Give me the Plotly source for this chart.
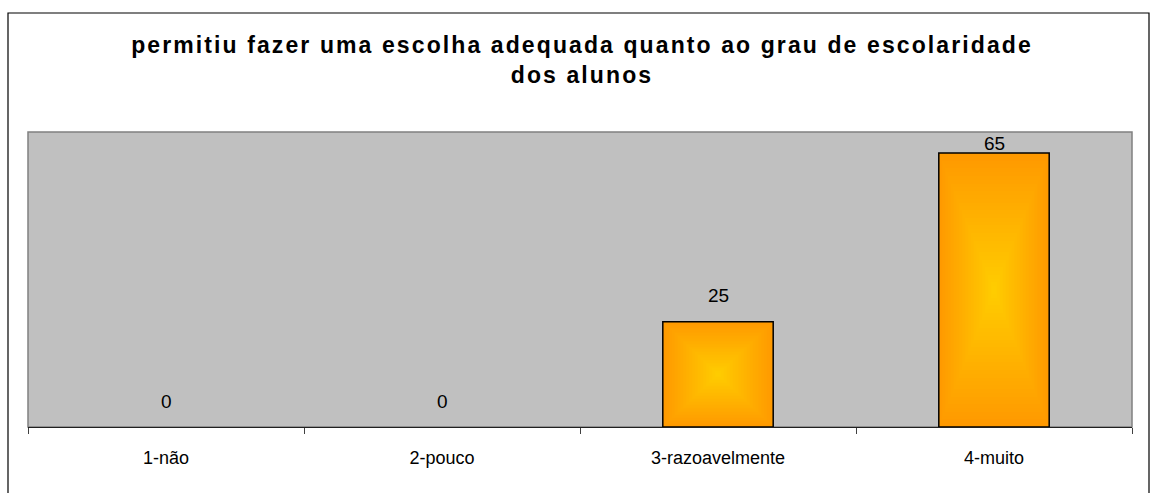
import plotly.graph_objects as go

categories = ["1-não", "2-pouco", "3-razoavelmente", "4-muito"]
values = [0, 0, 25, 65]
title_lines = ["permitiu fazer uma escolha adequada quanto ao grau de escolaridade", "dos alunos"]

Y_MAX = 70
W, H = 1154, 493
ML, MR, MT, MB = 28, 22, 132, 66
PW, PH = W - ML - MR, H - MT - MB
PX_PER_UNIT = PH / Y_MAX

def px_to_paper_x(px):
    return (px - ML) / PW

def px_to_paper_y(py):
    return (H - MB - py) / PH

edge = (255, 153, 0)
center = (255, 204, 0)
N = 36
BAR_W = 0.4

fig = go.Figure()
for i in range(N):
    f = 1 - i / N
    t = i / (N - 1)
    col = tuple(round(edge[k] + (center[k] - edge[k]) * t) for k in range(3))
    fig.add_trace(go.Bar(
        x=categories,
        y=[v * f for v in values],
        base=[v * (1 - f) / 2 for v in values],
        width=BAR_W * f,
        marker=dict(color="rgb(%d,%d,%d)" % col, line=dict(width=0)),
        hoverinfo="skip",
        showlegend=False,
    ))
# outline on top
fig.add_trace(go.Bar(
    x=categories, y=values, width=BAR_W,
    marker=dict(color="rgba(0,0,0,0)",
                line=dict(color="black", width=[1.5 if v > 0 else 0 for v in values])),
    hoverinfo="skip", showlegend=False,
))

font_family = "Liberation Sans, Arial, sans-serif"
annotations = []
for c, v in zip(categories, values):
    y_lab = min(v + 26 / PX_PER_UNIT, Y_MAX - 11 / PX_PER_UNIT)
    annotations.append(dict(x=c, y=y_lab, xref="x", yref="y", text=str(v),
                            showarrow=False, yanchor="middle",
                            font=dict(family=font_family, size=19, color="black")))
annotations.append(dict(x=px_to_paper_x(106), y=px_to_paper_y(3), xref="paper", yref="paper",
                        text="<i>a)</i>", showarrow=False, xanchor="center", yanchor="bottom",
                        font=dict(family="Liberation Serif, Times New Roman, serif", size=18, color="black")))

shapes = [
    dict(type="rect", xref="paper", yref="paper",
         x0=px_to_paper_x(8), x1=px_to_paper_x(1149), y0=px_to_paper_y(13), y1=px_to_paper_y(520),
         line=dict(color="black", width=1.2), fillcolor="rgba(0,0,0,0)", layer="below"),
    dict(type="rect", xref="paper", yref="paper", x0=0, x1=1, y0=0, y1=1,
         line=dict(color="#808080", width=1.5), fillcolor="rgba(0,0,0,0)", layer="below"),
]

fig.update_layout(
    width=W, height=H,
    margin=dict(l=ML, r=MR, t=MT, b=MB, pad=0),
    paper_bgcolor="white", plot_bgcolor="#C0C0C0",
    barmode="overlay", bargap=0,
    title=dict(text="<b>" + "<br>".join(title_lines) + "</b>", x=582 / W, xref="container",
               xanchor="center", y=1 - 53 / H, yref="container", yanchor="top",
               font=dict(family=font_family, size=23, color="black")),
    annotations=annotations, shapes=shapes,
    xaxis=dict(type="category", categoryorder="array", categoryarray=categories,
               showgrid=False, showline=True, linecolor="#202020", linewidth=1.2,
               ticks="outside", tickson="boundaries", ticklen=6, tickcolor="#404040", tickwidth=1,
               tickfont=dict(family=font_family, size=18, color="black"),
               ticklabelstandoff=14, range=[-0.5, 3.5], zeroline=False),
    yaxis=dict(range=[0, Y_MAX], showgrid=False, showticklabels=False, ticks="",
               zeroline=False, showline=False),
    font=dict(family=font_family),
)

post = """
document.body.style.margin = '0';
document.body.style.overflow = 'hidden';
document.querySelectorAll('.gtitle').forEach(function(e){ e.style.letterSpacing = '2.1px'; });
"""
fig.write_html("out.html", post_script=post, config={"displayModeBar": False, "staticPlot": True})
